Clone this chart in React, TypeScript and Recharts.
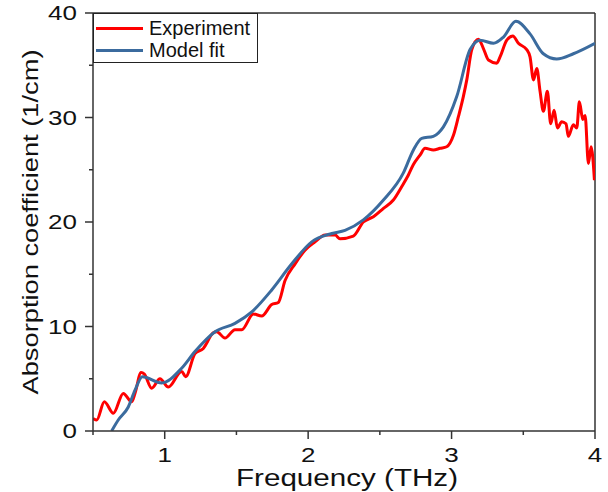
import React from "react";
import { LineChart, Line, XAxis, YAxis, ReferenceLine, Legend, Label } from "recharts";

// measured spectrum (red)
const expFreq = [
  0.5, 0.526, 0.579, 0.642, 0.711, 0.77, 0.793, 0.835, 0.858, 0.909, 0.967, 1.025, 1.118, 1.146,
  1.211, 1.269, 1.339, 1.363, 1.42, 1.49, 1.537, 1.618, 1.676, 1.746, 1.792, 1.839, 1.909, 1.978,
  2.048, 2.118, 2.188, 2.222, 2.315, 2.385, 2.455, 2.525, 2.594, 2.653, 2.699, 2.734, 2.78, 2.815,
  2.873, 2.92, 2.966, 3.013, 3.048, 3.082, 3.106, 3.141, 3.187, 3.222, 3.257, 3.315, 3.338, 3.385,
  3.427, 3.466, 3.524, 3.547, 3.571, 3.594, 3.617, 3.64, 3.668, 3.691, 3.715, 3.738, 3.768, 3.798,
  3.814, 3.849, 3.873, 3.891, 3.915, 3.931, 3.954, 3.973, 3.996,
];
const expAbs = [
  1.2, 1.05, 2.8, 1.7, 3.6, 2.8, 3.6, 5.6, 5.45, 4.1, 5.0, 4.2, 5.7, 5.2,
  7.4, 7.9, 9.4, 9.5, 8.9, 9.7, 9.7, 11.2, 11.0, 12.1, 12.3, 14.4, 16.0, 17.3,
  18.1, 18.75, 18.75, 18.4, 18.65, 20.0, 20.5, 21.3, 22.1, 23.4, 24.5, 25.5, 26.4, 27.05,
  26.9, 27.05, 27.2, 28.3, 30.1, 32.0, 33.6, 36.5, 37.5, 36.6, 35.5, 35.2, 35.8, 37.4,
  37.8, 37.1, 36.5, 35.8, 33.6, 34.7, 32.5, 30.6, 32.5, 29.4, 30.7, 29.0, 29.6, 29.4,
  28.2, 29.3, 29.0, 31.5, 29.8, 30.2, 25.6, 27.2, 24.0,
];

// model fit (blue)
const fitFreq = [
  0.63, 0.676, 0.746, 0.793, 0.844, 0.979, 1.118, 1.211, 1.351, 1.49, 1.607, 1.746, 1.886, 2.025,
  2.165, 2.257, 2.385, 2.525, 2.664, 2.734, 2.792, 2.873, 2.943, 3.036, 3.129, 3.199, 3.292, 3.362,
  3.448, 3.547, 3.64, 3.733, 3.849, 4.0,
];
const fitAbs = [
  0, 1.05, 2.3, 3.9, 5.2, 4.6, 6.0, 7.6, 9.5, 10.3, 11.4, 13.5, 16.0, 18.1,
  18.9, 19.2, 20.2, 22.1, 24.7, 26.9, 28.0, 28.2, 29.1, 32.0, 36.5, 37.4, 37.1, 37.7,
  39.2, 38.0, 36.1, 35.6, 36.1, 37.1,
];

const xTicks = [0.5, 1, 1.5, 2, 2.5, 3, 3.5, 4];
const yTicks = [0, 5, 10, 15, 20, 25, 30, 35, 40];

const expData = expFreq.map((x, i) => ({ x, y: expAbs[i] }));
const fitData = fitFreq.map((x, i) => ({ x, y: fitAbs[i] }));

const FONT = "'Liberation Sans', Arial, sans-serif";
const AXIS = "#333";

function XTick({ x, y, payload }: any) {
  const v = payload.value;
  const major = Number.isInteger(v);
  return (
    <g>
      <line x1={x} x2={x} y1={y} y2={y + (major ? 8 : 4)} stroke={AXIS} strokeWidth={1.5} />
      {major && (
        <text
          transform={`translate(${x},${y + 31}) scale(1.3,1)`}
          textAnchor="middle"
          fontSize={20}
          fontFamily={FONT}
          fill="#111"
        >
          {v}
        </text>
      )}
    </g>
  );
}

function YTick({ x, y, payload }: any) {
  const v = payload.value;
  const major = v % 10 === 0;
  return (
    <g>
      <line x1={x} x2={x - (major ? 8 : 4)} y1={y} y2={y} stroke={AXIS} strokeWidth={1.5} />
      {major && (
        <text
          transform={`translate(${x - 16},${y + 7}) scale(1.3,1)`}
          textAnchor="end"
          fontSize={20}
          fontFamily={FONT}
          fill="#111"
        >
          {v}
        </text>
      )}
    </g>
  );
}

function LegendBox({ payload }: any) {
  return (
    <div
      style={{
        border: "1px solid #222",
        background: "#fff",
        width: 165,
        height: 50,
        fontFamily: FONT,
        fontSize: 20,
        color: "#111",
        paddingTop: 3,
        boxSizing: "border-box",
        textAlign: "left",
      }}
    >
      {(payload ?? []).map((p: any) => (
        <div key={p.value} style={{ display: "flex", alignItems: "center", height: 22 }}>
          <span style={{ display: "inline-block", width: 47, height: 3, background: p.color, marginLeft: 2, marginRight: 6 }} />
          <span>{p.value}</span>
        </div>
      ))}
    </div>
  );
}

export default function App() {
  return (
    <div style={{ position: "absolute", left: 0, top: 0, width: 608, height: 492, background: "#fff" }}>
      <LineChart width={608} height={492} margin={{ top: 13, right: 13, bottom: 0, left: 0 }}>
        <XAxis
          type="number"
          dataKey="x"
          domain={[0.5, 4]}
          ticks={xTicks}
          interval={0}
          allowDataOverflow
          height={61}
          tickSize={0}
          tickMargin={0}
          tickLine={false}
          axisLine={{ stroke: AXIS, strokeWidth: 1.5 }}
          tick={<XTick />}
        >
          <Label
            content={() => (
              <text x={347} y={486} textAnchor="middle" fontSize={23} fontFamily={FONT} fill="#111" textLength={222} lengthAdjust="spacingAndGlyphs">
                Frequency (THz)
              </text>
            )}
          />
        </XAxis>
        <YAxis
          type="number"
          dataKey="y"
          domain={[0, 40]}
          ticks={yTicks}
          interval={0}
          allowDataOverflow
          width={93}
          tickSize={0}
          tickMargin={0}
          tickLine={false}
          axisLine={{ stroke: AXIS, strokeWidth: 1.5 }}
          tick={<YTick />}
        >
          <Label
            content={() => (
              <text
                transform="translate(38,222) rotate(-90)"
                textAnchor="middle"
                fontSize={22}
                fontFamily={FONT}
                fill="#111"
                textLength={345}
                lengthAdjust="spacingAndGlyphs"
              >
                Absorption coefficient (1/cm)
              </text>
            )}
          />
        </YAxis>
        <ReferenceLine y={40} stroke={AXIS} strokeWidth={1.5} />
        <ReferenceLine x={4} stroke={AXIS} strokeWidth={1.5} />
        <Line
          data={expData}
          dataKey="y"
          name="Experiment"
          type="monotone"
          stroke="#f00"
          strokeWidth={3}
          dot={false}
          isAnimationActive={false}
        />
        <Line
          data={fitData}
          dataKey="y"
          name="Model fit"
          type="monotone"
          stroke="#3b6b9e"
          strokeWidth={3}
          dot={false}
          isAnimationActive={false}
        />
        <Legend
          layout="horizontal"
          verticalAlign="middle"
          align="center"
          content={<LegendBox />}
          wrapperStyle={{ top: 13, left: 93, width: "auto" }}
        />
      </LineChart>
    </div>
  );
}
